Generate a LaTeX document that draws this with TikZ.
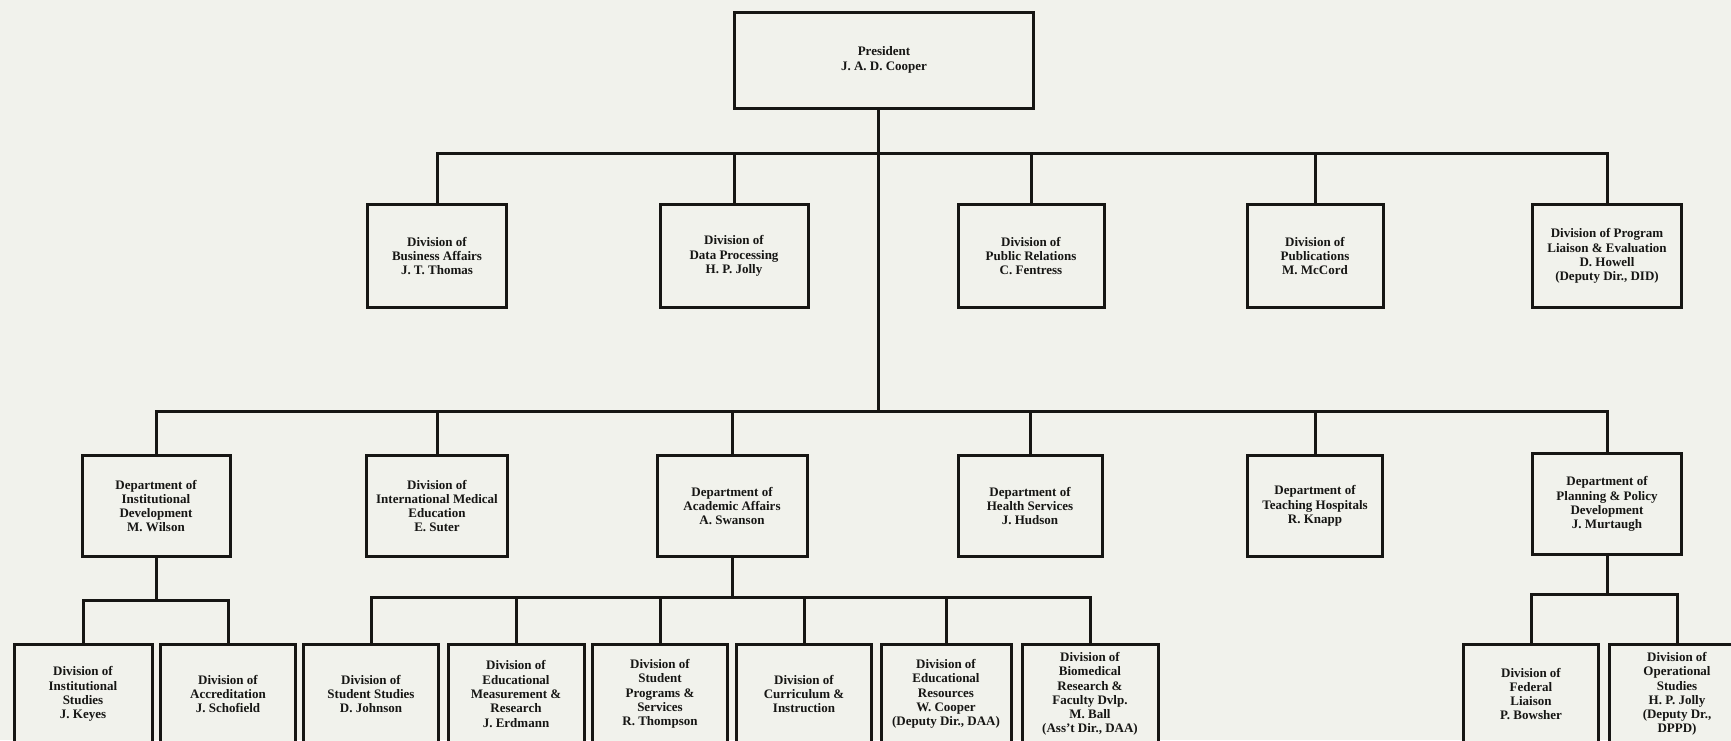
\documentclass[tikz,border=0pt]{standalone}
\usepackage{fontspec}
\setmainfont{Liberation Serif}
\definecolor{paper}{RGB}{241,242,236}
\definecolor{ink}{RGB}{22,22,20}

\begin{document}
\begin{tikzpicture}[x=1pt, y=-1pt,
    unitbox/.style={draw=ink, line width=3pt, fill=paper, text=ink, align=center,
        inner sep=0pt, font=\fontsize{13}{14.3}\selectfont\bfseries},
    presbox/.style={unitbox, minimum width=299pt, minimum height=96pt},
    divbox/.style={unitbox, minimum height=103pt},
    deptbox/.style={unitbox, minimum height=101pt},
    subbox/.style={unitbox, minimum height=100pt},
    wire/.style={draw=ink, line width=3pt}]
\useasboundingbox (0,0) rectangle (1731,740);
\clip (0,0) rectangle (1731,740);
\fill[paper] (0,0) rectangle (1731,740);

\node[presbox] (pres) at (884,60) {President\\J. A. D. Cooper};

% staff divisions
\node[divbox, minimum width=139pt] (busaff) at (437,256) {Division of\\Business Affairs\\J. T. Thomas};
\node[divbox, minimum width=148pt] (dataproc) at (734,256) {Division of\\Data Processing\\H. P. Jolly};
\node[divbox, minimum width=146pt] (pubrel) at (1031,256) {Division of\\Public Relations\\C. Fentress};
\node[divbox, minimum width=136pt] (publ) at (1315,256) {Division of\\Publications\\M. McCord};
\node[divbox, minimum width=149pt] (proglia) at (1607,256) {Division of Program\\Liaison \& Evaluation\\D. Howell\\(Deputy Dir., DID)};

% departments
\node[deptbox, minimum width=148pt] (instdev) at (156,506) {Department of\\Institutional\\Development\\M. Wilson};
\node[deptbox, minimum width=141pt] (intmed) at (437,506) {Division of\\International Medical\\Education\\E. Suter};
\node[deptbox, minimum width=150pt] (acad) at (732,506) {Department of\\Academic Affairs\\A. Swanson};
\node[deptbox, minimum width=144pt] (health) at (1030,506) {Department of\\Health Services\\J. Hudson};
\node[deptbox, minimum width=135pt] (teach) at (1315,506) {Department of\\Teaching Hospitals\\R. Knapp};
\node[deptbox, minimum width=149pt] (plan) at (1607,504) {Department of\\Planning \& Policy\\Development\\J. Murtaugh};

% divisions under the departments
\node[subbox, minimum width=138pt] (instst) at (83,694) {Division of\\Institutional\\Studies\\J. Keyes};
\node[subbox, minimum width=135pt] (accr) at (228,694) {Division of\\Accreditation\\J. Schofield};
\node[subbox, minimum width=135pt] (studst) at (371,694) {Division of\\Student Studies\\D. Johnson};
\node[subbox, minimum width=136pt] (edmeas) at (516,694) {Division of\\Educational\\Measurement \&\\Research\\J. Erdmann};
\node[subbox, minimum width=135pt] (studprog) at (660,694) {Division of\\Student\\Programs \&\\Services\\R. Thompson};
\node[subbox, minimum width=135pt] (curric) at (804,694) {Division of\\Curriculum \&\\Instruction};
\node[subbox, minimum width=130pt] (edres) at (946,694) {Division of\\Educational\\Resources\\W. Cooper\\(Deputy Dir., DAA)};
\node[subbox, minimum width=136pt] (biomed) at (1090,694) {Division of\\Biomedical\\Research \&\\Faculty Dvlp.\\M. Ball\\(Ass’t Dir., DAA)};
\node[subbox, minimum width=135pt] (fedlia) at (1531,694) {Division of\\Federal\\Liaison\\P. Bowsher};
\node[subbox, minimum width=135pt] (operst) at (1677,694) {Division of\\Operational\\Studies\\H. P. Jolly\\(Deputy Dr.,\\DPPD)};

\coordinate (staffbar) at (878,153);
\coordinate (deptbar) at (878,411);
\coordinate (idbar) at (156,600);
\coordinate (aabar) at (732,597);
\coordinate (ppbar) at (1607,594);

\draw[wire] (pres.south -| staffbar) -- (deptbar);
\draw[wire] (busaff.north) |- (staffbar) -| (proglia.north);
\draw[wire] (dataproc.north) -- (dataproc.north |- staffbar);
\draw[wire] (pubrel.north) -- (pubrel.north |- staffbar);
\draw[wire] (publ.north) -- (publ.north |- staffbar);

\draw[wire] (instdev.north) |- (deptbar) -| (plan.north);
\draw[wire] (intmed.north) -- (intmed.north |- deptbar);
\draw[wire] (acad.north) -- (acad.north |- deptbar);
\draw[wire] (health.north) -- (health.north |- deptbar);
\draw[wire] (teach.north) -- (teach.north |- deptbar);

\draw[wire] (instdev.south) -- (idbar);
\draw[wire] (instst.north) |- (idbar) -| (accr.north);

\draw[wire] (acad.south) -- (aabar);
\draw[wire] (studst.north) |- (aabar) -| (biomed.north);
\draw[wire] (edmeas.north) -- (edmeas.north |- aabar);
\draw[wire] (studprog.north) -- (studprog.north |- aabar);
\draw[wire] (curric.north) -- (curric.north |- aabar);
\draw[wire] (edres.north) -- (edres.north |- aabar);

\draw[wire] (plan.south) -- (ppbar);
\draw[wire] (fedlia.north) |- (ppbar) -| (operst.north);
\end{tikzpicture}
\end{document}
